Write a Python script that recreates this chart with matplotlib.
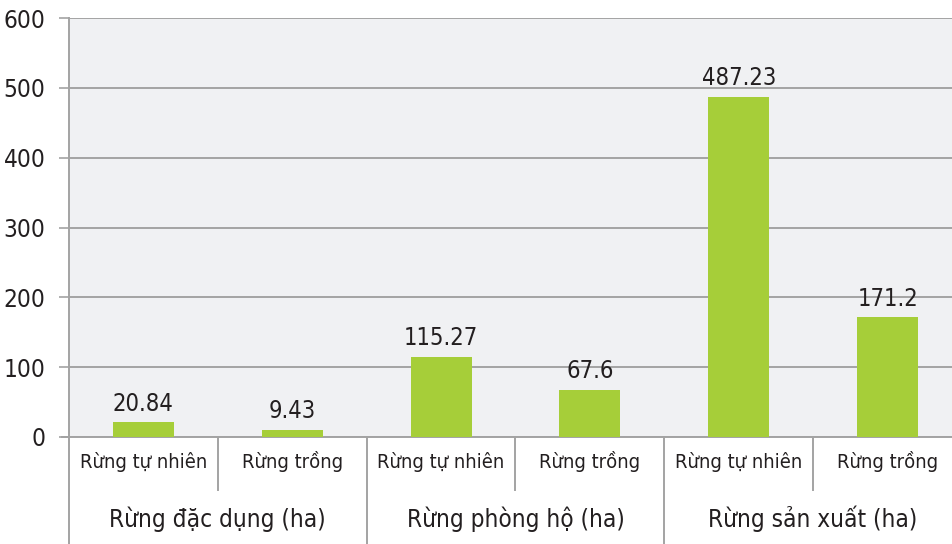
import matplotlib
matplotlib.use("Agg")
import matplotlib.pyplot as plt
from matplotlib.transforms import blended_transform_factory

groups = ["Rừng đặc dụng (ha)", "Rừng phòng hộ (ha)", "Rừng sản xuất (ha)"]
subcats = ["Rừng tự nhiên", "Rừng trồng"]
values = [20.84, 9.43, 115.27, 67.6, 487.23, 171.2]
value_labels = ["20.84", "9.43", "115.27", "67.6", "487.23", "171.2"]
yticks = [0, 100, 200, 300, 400, 500, 600]

plt.rcParams["font.family"] = ["DejaVu Sans"]
plt.rcParams["font.stretch"] = "condensed"
fp = dict(fontstretch="condensed")

W, H = 952, 544
fig = plt.figure(figsize=(W / 100, H / 100), dpi=100)
fig.patch.set_facecolor("white")
x0, x1 = 69, 962
y0, y1 = 437, 18
ax = fig.add_axes([x0 / W, 1 - y0 / H, (x1 - x0) / W, (y0 - y1) / H])
ax.set_facecolor("#f0f1f3")

n = len(values)
xs = list(range(n))
ax.bar(xs, values, width=0.41, color="#a6ce39", zorder=3)
for x, v, lab in zip(xs, values, value_labels):
    ax.annotate(lab, (x, v), xytext=(0, 5), textcoords="offset points",
                ha="center", va="bottom", fontsize=17, color="#231f20", **fp)

ax.set_xlim(-0.5, n - 0.5)
ax.set_ylim(0, 600)
ax.set_yticks(yticks)
ax.set_yticklabels([str(t) for t in yticks], fontsize=17.5, color="#231f20", **fp)
ax.yaxis.grid(True, color="#a3a3a3", linewidth=1.4, zorder=1)
ax.tick_params(axis="y", length=7, width=1.2, color="#a3a3a3", pad=10)
ax.set_xticks([])
for s in ["top", "right"]:
    ax.spines[s].set_visible(False)
ax.spines["left"].set_color("#a3a3a3")
ax.spines["left"].set_linewidth(1.4)
ax.spines["bottom"].set_color("#a3a3a3")
ax.spines["bottom"].set_linewidth(1.4)

trans = blended_transform_factory(ax.transData, fig.transFigure)
def fy(p):
    return 1 - p / H

ax.plot([-0.5, -0.5], [fy(437), fy(544)], transform=trans, color="#a3a3a3",
        lw=1.4, clip_on=False)
ax.plot([-0.5 - 7 / 148.5, -0.5], [fy(437), fy(437)], transform=trans,
        color="#a3a3a3", lw=1.4, clip_on=False)
for i in range(n):
    ax.text(i, fy(462), subcats[i % 2], transform=trans, ha="center", va="center",
            fontsize=14.5, color="#231f20", **fp)
for g in range(len(groups)):
    ax.plot([2 * g + 0.5, 2 * g + 0.5], [fy(437), fy(490)], transform=trans,
            color="#a3a3a3", lw=1.4, clip_on=False)
    ax.plot([2 * g + 1.5, 2 * g + 1.5], [fy(437), fy(544)], transform=trans,
            color="#a3a3a3", lw=1.4, clip_on=False)
    ax.text(2 * g + 0.5, fy(519), groups[g], transform=trans, ha="center",
            va="center", fontsize=17.5, color="#231f20", **fp)

fig.savefig("out.png", dpi=100)
